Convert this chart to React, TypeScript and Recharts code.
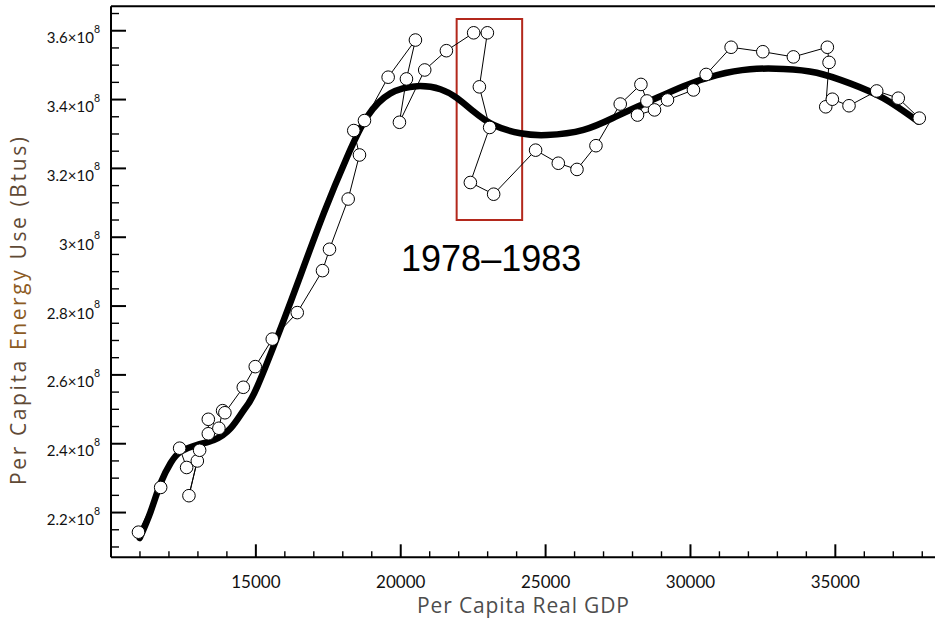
import React from 'react';
import {
  ComposedChart,
  Line,
  Scatter,
  XAxis,
  YAxis,
  ReferenceArea,
  ReferenceDot,
  ReferenceLine,
} from 'recharts';

// Observed series: per capita real GDP vs per capita energy use (Btus), in time order
const gdpValues = [
  10948, 11714, 12369, 12610, 12979, 12690, 13059, 13359, 13359, 13724, 13852, 13931, 14566,
  14979, 15566, 16428, 17300, 17541, 18186, 18576, 18379, 18748, 19566, 20507, 20197, 19955,
  20828, 21576, 22517, 22990, 22714, 23069, 22403, 23207, 24655, 25438, 26083, 26738, 27576,
  28290, 28497, 28172, 28759, 29207, 30103, 30541, 31403, 32497, 33552, 34724, 34783, 34669,
  34897, 35472, 36428, 37172, 37897,
];
const energyValues = [
  2.143e8, 2.273e8, 2.387e8, 2.331e8, 2.35e8, 2.249e8, 2.381e8, 2.429e8, 2.471e8, 2.445e8,
  2.496e8, 2.49e8, 2.564e8, 2.624e8, 2.704e8, 2.781e8, 2.903e8, 2.965e8, 3.111e8, 3.239e8,
  3.31e8, 3.339e8, 3.465e8, 3.573e8, 3.46e8, 3.334e8, 3.486e8, 3.542e8, 3.594e8, 3.594e8,
  3.437e8, 3.319e8, 3.159e8, 3.125e8, 3.253e8, 3.215e8, 3.197e8, 3.266e8, 3.387e8, 3.444e8,
  3.396e8, 3.355e8, 3.37e8, 3.399e8, 3.428e8, 3.473e8, 3.552e8, 3.539e8, 3.524e8, 3.552e8,
  3.508e8, 3.379e8, 3.401e8, 3.382e8, 3.425e8, 3.404e8, 3.346e8,
];

// Smooth fitted curve
const fitGdp = [
  10993, 11369, 11714, 12059, 12403, 12979, 13552, 14128, 14586, 15048, 15966, 16483, 17345,
  18152, 18841, 19645, 20566, 21369, 21945, 22517, 23207, 24128, 25048, 26310, 27462, 28610,
  29759, 30910, 32059, 33207, 34359, 35507, 36655, 37862,
];
const fitEnergy = [
  2.126e8, 2.203e8, 2.286e8, 2.344e8, 2.377e8, 2.397e8, 2.411e8, 2.445e8, 2.498e8, 2.566e8,
  2.76e8, 2.876e8, 3.07e8, 3.234e8, 3.35e8, 3.418e8, 3.439e8, 3.43e8, 3.404e8, 3.365e8,
  3.326e8, 3.302e8, 3.297e8, 3.312e8, 3.352e8, 3.396e8, 3.439e8, 3.471e8, 3.488e8, 3.489e8,
  3.478e8, 3.447e8, 3.404e8, 3.336e8,
];

const xTicks = [
  11000, 12000, 13000, 14000, 15000, 16000, 17000, 18000, 19000, 20000, 21000, 22000, 23000,
  24000, 25000, 26000, 27000, 28000, 29000, 30000, 31000, 32000, 33000, 34000, 35000, 36000,
  37000, 38000,
];
const xLabeledTicks = [15000, 20000, 25000, 30000, 35000];

const yTicks = [
  2.1e8, 2.15e8, 2.2e8, 2.25e8, 2.3e8, 2.35e8, 2.4e8, 2.45e8, 2.5e8, 2.55e8, 2.6e8, 2.65e8,
  2.7e8, 2.75e8, 2.8e8, 2.85e8, 2.9e8, 2.95e8, 3.0e8, 3.05e8, 3.1e8, 3.15e8, 3.2e8, 3.25e8,
  3.3e8, 3.35e8, 3.4e8, 3.45e8, 3.5e8, 3.55e8, 3.6e8, 3.65e8,
];
const yLabeledTicks = [2.2e8, 2.4e8, 2.6e8, 2.8e8, 3.0e8, 3.2e8, 3.4e8, 3.6e8];

const highlightYears = '1978–1983';
const highlightBox = { x1: 21930, x2: 24191, y1: 3.05e8, y2: 3.634e8 };
const highlightLabelAt = { x: 23121, y: 2.94e8 };

const xDomain = [10000, 38440];
const yDomain = [2.07e8, 3.671e8];

const observed = gdpValues.map((g, i) => ({ gdp: g, e: energyValues[i] }));
const fitted = fitGdp.map((g, i) => ({ gdp: g, e: fitEnergy[i] }));

const isMajor = (list: number[], v: number) => list.some((t) => Math.abs(t - v) < 1e-3 * Math.abs(t));

const XTick = (props: any) => {
  const { x, y, payload } = props;
  const major = isMajor(xLabeledTicks, payload.value);
  return (
    <g>
      <line x1={x} x2={x} y1={y} y2={y - (major ? 13 : 6)} stroke="#000" strokeWidth={major ? 2 : 1.4} />
      {major && (
        <text x={x} y={y + 30.5} textAnchor="middle" fontSize={17} fontFamily="Lato, 'Open Sans', sans-serif" fill="#111">
          {payload.value}
        </text>
      )}
    </g>
  );
};

const YTick = (props: any) => {
  const { x, y, payload } = props;
  const v = payload.value as number;
  const major = isMajor(yLabeledTicks, v);
  const mant = String(Number((v / 1e8).toFixed(2)));
  return (
    <g>
      <line x1={x} x2={x + (major ? 15 : 8)} y1={y} y2={y} stroke="#000" strokeWidth={major ? 2 : 1.4} />
      {major && (
        <text x={x - 11} y={y + 12.5} textAnchor="end" fontSize={15} fontFamily="Lato, 'Open Sans', sans-serif" fill="#111">
          {mant}×10
          <tspan dy={-10.5} fontSize={10.5}>8</tspan>
        </text>
      )}
    </g>
  );
};

const Circle = (props: any) => {
  const { cx, cy } = props;
  return <circle cx={cx} cy={cy} r={6.3} fill="#fff" stroke="#000" strokeWidth={1} />;
};

const YLabel = () => (
  <text
    x={26}
    y={311}
    transform="rotate(-90, 26, 311)"
    textAnchor="middle"
    fontSize={21}
    fontFamily="'Open Sans', Lato, sans-serif"
    fill="#5f4a36"
    textLength={348}
    lengthAdjust="spacing"
  >
    Per Capita <tspan fill="#8c5b24">Energy</tspan> Use (Btus)
  </text>
);

const XLabel = () => (
  <text
    x={523}
    y={613}
    textAnchor="middle"
    fontSize={21}
    fontFamily="'Open Sans', Lato, sans-serif"
    fill="#4d4d4d"
    textLength={212}
    lengthAdjust="spacing"
  >
    Per Capita Real GDP
  </text>
);

export default function App() {
  return (
    <div style={{ position: 'absolute', left: 0, top: 0, width: 935, height: 628, background: '#fff' }}>
      <ComposedChart width={935} height={628} margin={{ top: 6.3, right: 0, bottom: 0, left: 0 }}>
        <XAxis
          dataKey="gdp"
          type="number"
          domain={xDomain}
          allowDataOverflow
          ticks={xTicks}
          interval={0}
          tickSize={0}
          tickMargin={0}
          tick={<XTick />}
          tickLine={false}
          axisLine={{ stroke: '#000', strokeWidth: 2 }}
          height={70.7}
          label={<XLabel />}
        />
        <YAxis
          dataKey="e"
          type="number"
          domain={yDomain}
          allowDataOverflow
          ticks={yTicks}
          interval={0}
          tickSize={0}
          tickMargin={0}
          tick={<YTick />}
          tickLine={false}
          axisLine={{ stroke: '#000', strokeWidth: 2 }}
          width={111}
          label={<YLabel />}
        />
        <ReferenceLine y={yDomain[1]} stroke="#000" strokeWidth={2} ifOverflow="visible" />
        <ReferenceArea
          x1={highlightBox.x1}
          x2={highlightBox.x2}
          y1={highlightBox.y1}
          y2={highlightBox.y2}
          fill="none"
          fillOpacity={0}
          stroke="#b3281c"
          strokeWidth={2}
          ifOverflow="visible"
        />
        <ReferenceDot
          x={highlightLabelAt.x}
          y={highlightLabelAt.y}
          r={0}
          fill="none"
          stroke="none"
          label={{
            value: highlightYears,
            position: 'center',
            fontSize: 36,
            fill: '#000',
            fontFamily: "'Liberation Sans', Arial, sans-serif",
          }}
        />
        <Line
          data={fitted}
          dataKey="e"
          type="natural"
          stroke="#000"
          strokeWidth={6.5}
          strokeLinecap="round"
          dot={false}
          activeDot={false}
          isAnimationActive={false}
        />
        <Scatter
          data={observed}
          dataKey="e"
          line={{ stroke: '#000', strokeWidth: 1 }}
          shape={<Circle />}
          isAnimationActive={false}
        />
      </ComposedChart>
    </div>
  );
}
